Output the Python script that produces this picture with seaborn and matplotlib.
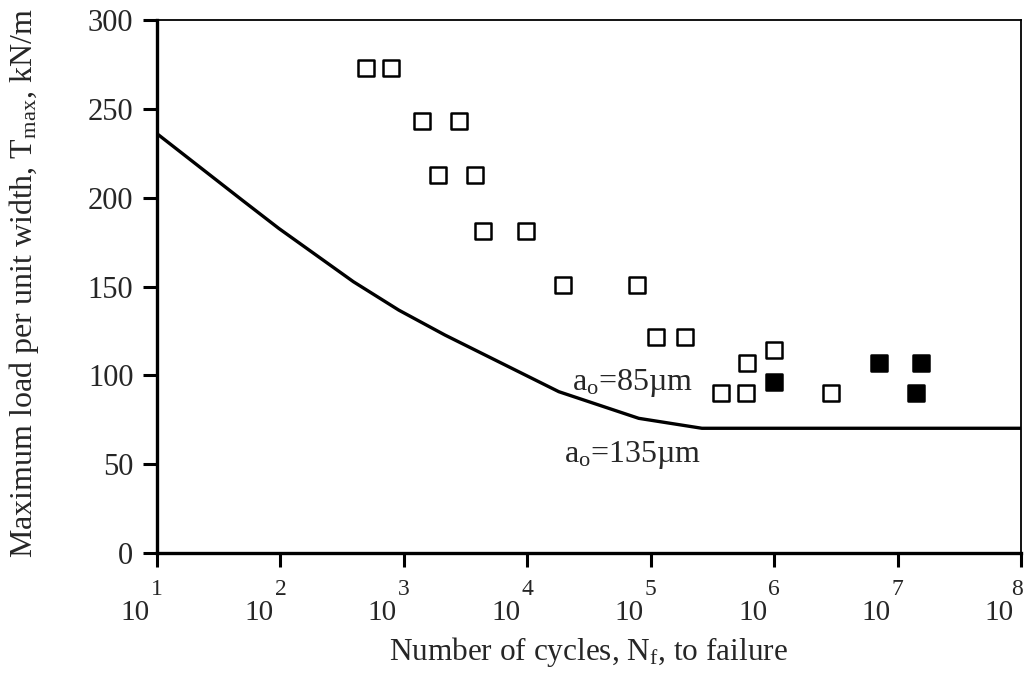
import numpy as np
import pandas as pd
import matplotlib
matplotlib.use("Agg")
import matplotlib.pyplot as plt
import matplotlib.transforms as mtransforms
import seaborn as sns

# ── Data ──
open_cycles = [490, 780, 1410, 2800, 1900, 3800, 4400, 9800, 19500, 77000,
               110000, 190000, 600000, 1000000, 370000, 590000, 2900000]
open_load = [273, 273, 243, 243, 213, 213, 181, 181, 151, 151,
             121.5, 121.5, 107, 114, 90, 90, 90]

filled_cycles = [1000000, 7100000, 15400000, 14000000]
filled_load = [96, 107, 107, 90]

curve_cycles = [10, 49, 97, 390, 910, 2150, 18000, 80000, 260000, 1e8]
curve_load = [236, 198.6, 182.7, 152.7, 136.7, 122.7, 90.8, 75.8, 70.2, 70.2]

decades = [1, 2, 3, 4, 5, 6, 7, 8]
y_ticks = [0, 50, 100, 150, 200, 250, 300]

sns.set_theme(style="white")
plt.rcParams["font.family"] = ["Liberation Serif", "DejaVu Serif"]
plt.rcParams["mathtext.fontset"] = "custom"
plt.rcParams["mathtext.rm"] = "Liberation Serif"
plt.rcParams["mathtext.it"] = "Liberation Serif:italic"

fig = plt.figure(figsize=(10.24, 6.85), dpi=100)
ax = fig.add_axes([157 / 1024, 1 - 553 / 685, 864 / 1024, 533 / 685])

df_curve = pd.DataFrame({"N": curve_cycles, "T": curve_load})
sns.lineplot(data=df_curve, x="N", y="T", color="black", lw=2.4, ax=ax)

df_open = pd.DataFrame({"N": open_cycles, "T": open_load})
sns.scatterplot(data=df_open, x="N", y="T", marker="s", s=135,
                facecolor="white", edgecolor="black", linewidth=1.8,
                zorder=3, ax=ax)

df_filled = pd.DataFrame({"N": filled_cycles, "T": filled_load})
sns.scatterplot(data=df_filled, x="N", y="T", marker="s", s=135,
                color="black", edgecolor="black", linewidth=1.8,
                zorder=3, ax=ax)

ax.set_xscale("log")
ax.set_xlim(10, 1e8)
ax.set_ylim(0, 300)
ax.set_yticks(y_ticks)
ax.set_yticklabels([str(v) for v in y_ticks], fontsize=22)
ax.set_xticks([10.0 ** d for d in decades])
ax.set_xticklabels([])
ax.xaxis.set_minor_locator(matplotlib.ticker.NullLocator())

# ── Spines and ticks ──
for side in ["left", "bottom"]:
    ax.spines[side].set_linewidth(2.4)
for side in ["top", "right"]:
    ax.spines[side].set_linewidth(1.3)
for sp in ax.spines.values():
    sp.set_color("black")
ax.tick_params(axis="both", direction="out", length=10, width=2.2,
               color="black", left=True, bottom=True)
ax.tick_params(axis="y", pad=7)

# ── Tick labels of the form 10 with exponent above the tick ──
trans = mtransforms.blended_transform_factory(ax.transData, ax.transAxes)
offset = mtransforms.ScaledTranslation(-7 / 100, 0, fig.dpi_scale_trans)
nudge = mtransforms.ScaledTranslation(2 / 100, 0, fig.dpi_scale_trans)
for d in decades:
    if d == decades[-1]:
        # last exponent sits flush with the right edge of the figure
        ax.text(10.0 ** d, -0.069, str(d), transform=trans + nudge,
                fontsize=17, ha="right", va="center")
    else:
        ax.text(10.0 ** d, -0.069, str(d), transform=trans, fontsize=17,
                ha="center", va="center")
    ax.text(10.0 ** d, -0.1126, "10", transform=trans + offset,
            fontsize=21, ha="right", va="center")

ax.set_xlabel("Number of cycles, N$_\\mathrm{f}$, to failure", fontsize=22.5)
ax.set_ylabel("Maximum load per unit width, T$_\\mathrm{max}$, kN/m", fontsize=23)
ax.xaxis.label.set_va("center")
ax.yaxis.label.set_va("center")
ax.xaxis.set_label_coords((588 - 157) / 864, (553 - 652) / 533)
ax.yaxis.set_label_coords((24 - 157) / 864, (553 - 283) / 533)

# ── Annotations ──
ax.text(7.2e4, 91.7, "a$_\\mathrm{o}$=85µm", fontsize=23, ha="center", va="baseline")
ax.text(7.2e4, 51.2, "a$_\\mathrm{o}$=135µm", fontsize=23, ha="center", va="baseline")

fig.savefig("out.png", dpi=100)
plt.close(fig)
